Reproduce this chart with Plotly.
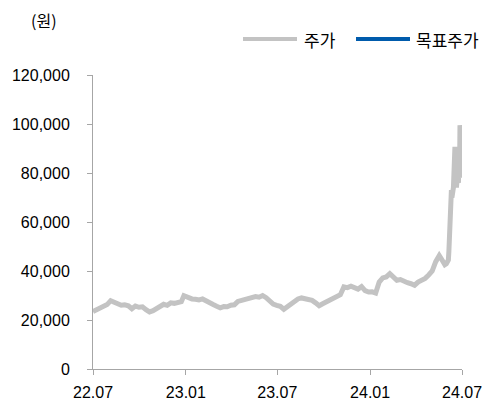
import plotly.graph_objects as go

dates = [
    "2022-07-01","2022-07-08","2022-07-15","2022-07-22","2022-07-29","2022-08-05","2022-08-12","2022-08-19",
    "2022-08-26","2022-09-02","2022-09-09","2022-09-16","2022-09-23","2022-09-30","2022-10-07","2022-10-14",
    "2022-10-21","2022-10-28","2022-11-04","2022-11-11","2022-11-18","2022-11-25","2022-12-02","2022-12-09",
    "2022-12-16","2022-12-23","2022-12-28",
    "2023-01-06","2023-01-13","2023-01-20","2023-01-27","2023-02-03","2023-02-10","2023-02-17","2023-02-24",
    "2023-03-03","2023-03-10","2023-03-17","2023-03-24","2023-03-31","2023-04-07","2023-04-14","2023-04-21",
    "2023-04-28","2023-05-05","2023-05-12","2023-05-19","2023-05-26","2023-06-02","2023-06-09","2023-06-16",
    "2023-06-23","2023-06-30","2023-07-07","2023-07-14","2023-07-21","2023-07-28","2023-08-04","2023-08-11",
    "2023-08-18","2023-08-25","2023-09-01","2023-09-08","2023-09-15","2023-09-22","2023-09-29","2023-10-06",
    "2023-10-13","2023-10-20","2023-10-27","2023-11-03","2023-11-10","2023-11-17","2023-11-24","2023-12-01",
    "2023-12-08","2023-12-15","2023-12-22","2023-12-29",
    "2024-01-05","2024-01-12","2024-01-19","2024-01-26","2024-02-02","2024-02-09","2024-02-16","2024-02-23",
    "2024-03-01","2024-03-08","2024-03-15","2024-03-22","2024-03-29","2024-04-05","2024-04-12","2024-04-19",
    "2024-04-26","2024-05-03","2024-05-10","2024-05-17","2024-05-21","2024-05-24","2024-05-28","2024-05-31",
    "2024-06-04","2024-06-05","2024-06-07","2024-06-10","2024-06-11","2024-06-12","2024-06-14","2024-06-17",
    "2024-06-18","2024-06-19","2024-06-20","2024-06-21","2024-06-24","2024-06-25","2024-06-26","2024-06-27",
    "2024-06-28","2024-07-01",
]
price = [
    23500,24200,24800,25600,26300,27900,27200,26400,
    26000,26200,25800,24600,25700,25200,25400,24200,
    23300,23800,24600,25900,26400,26000,27000,26800,
    27200,27500,29900,
    29000,28600,28500,28200,28600,28000,27000,26300,
    25600,25000,25500,25400,26000,26200,27600,27900,
    28400,29000,28800,29600,29300,30000,29100,27500,
    26500,26000,25600,24400,25600,26600,27600,28600,
    29000,28600,28500,28000,27000,25800,26600,27400,
    28000,28700,29600,30300,33500,33200,33800,33200,
    32600,33600,32000,31400,
    31500,31000,35500,37200,37600,38900,37400,36200,
    36500,35600,35200,34800,34200,35500,36000,37000,
    38400,40000,43800,46300,45000,43500,42600,43000,
    44500,48000,62000,73000,70000,72000,74000,90700,
    75000,88000,74000,77000,76000,90000,78000,99500,
    95000,88500,
]

series_names = ["주가", "목표주가"]
series_colors = ["#C3C3C3", "#005BAC"]
unit_label = "(원)"

tick_vals = ["2022-07-01","2023-01-01","2023-07-01","2024-01-01","2024-07-01"]
tick_text = ["22.07","23.01","23.07","24.01","24.07"]
y_ticks = [0,20000,40000,60000,80000,100000,120000]
y_text = ["0","20,000","40,000","60,000","80,000","100,000","120,000"]

FONT = "Arial, 'Liberation Sans', 'Noto Sans CJK KR', sans-serif"
KFONT = "'Noto Sans CJK KR', sans-serif"

fig = go.Figure()
fig.add_trace(go.Scatter(x=dates, y=price, mode="lines", name=series_names[0],
                         line=dict(color=series_colors[0], width=5), showlegend=False))

# manual legend (paper coordinates: plot spans x 93..462 px, y 75..369 px)
def px_x(p):
    return (p - 93) / 369.0

def px_y(p):
    return (369 - p) / 294.0

shapes = []
annotations = []
legend_items = [(243, 297, 302), (356, 410, 414)]
for (x0, x1, tx), name, col in zip(legend_items, series_names, series_colors):
    shapes.append(dict(type="line", xref="paper", yref="paper", x0=px_x(x0), x1=px_x(x1),
                       y0=px_y(39), y1=px_y(39), line=dict(color=col, width=4)))
    annotations.append(dict(text=name, xref="paper", yref="paper", x=px_x(tx), y=px_y(39),
                            xanchor="left", yanchor="middle", showarrow=False,
                            font=dict(size=17, family=KFONT, color="#000000")))
annotations.append(dict(text=unit_label, xref="paper", yref="paper", x=px_x(44), y=px_y(20),
                        xanchor="center", yanchor="middle", showarrow=False,
                        font=dict(size=16, family=KFONT, color="#000000")))

axis_col = "#A6A6A6"
fig.update_layout(
    width=487, height=408,
    margin=dict(l=93, r=25, t=75, b=39, autoexpand=False),
    paper_bgcolor="white", plot_bgcolor="white",
    font=dict(family=FONT, size=16, color="#000000"),
    showlegend=False,
    xaxis=dict(type="date", range=["2022-07-01","2024-07-01"], tickvals=tick_vals, ticktext=tick_text,
               showgrid=False, zeroline=False, showline=True, linecolor=axis_col, linewidth=1,
               ticks="outside", ticklen=5, tickcolor=axis_col, tickfont=dict(size=16),
               ticklabelstandoff=4),
    yaxis=dict(range=[0,120000], tickvals=y_ticks, ticktext=y_text, showgrid=False, zeroline=False,
               showline=True, linecolor=axis_col, linewidth=1, ticks="outside", ticklen=5,
               tickcolor=axis_col, tickfont=dict(size=16), ticklabelstandoff=14),
    shapes=shapes,
    annotations=annotations,
)
fig.write_html("out.html")
